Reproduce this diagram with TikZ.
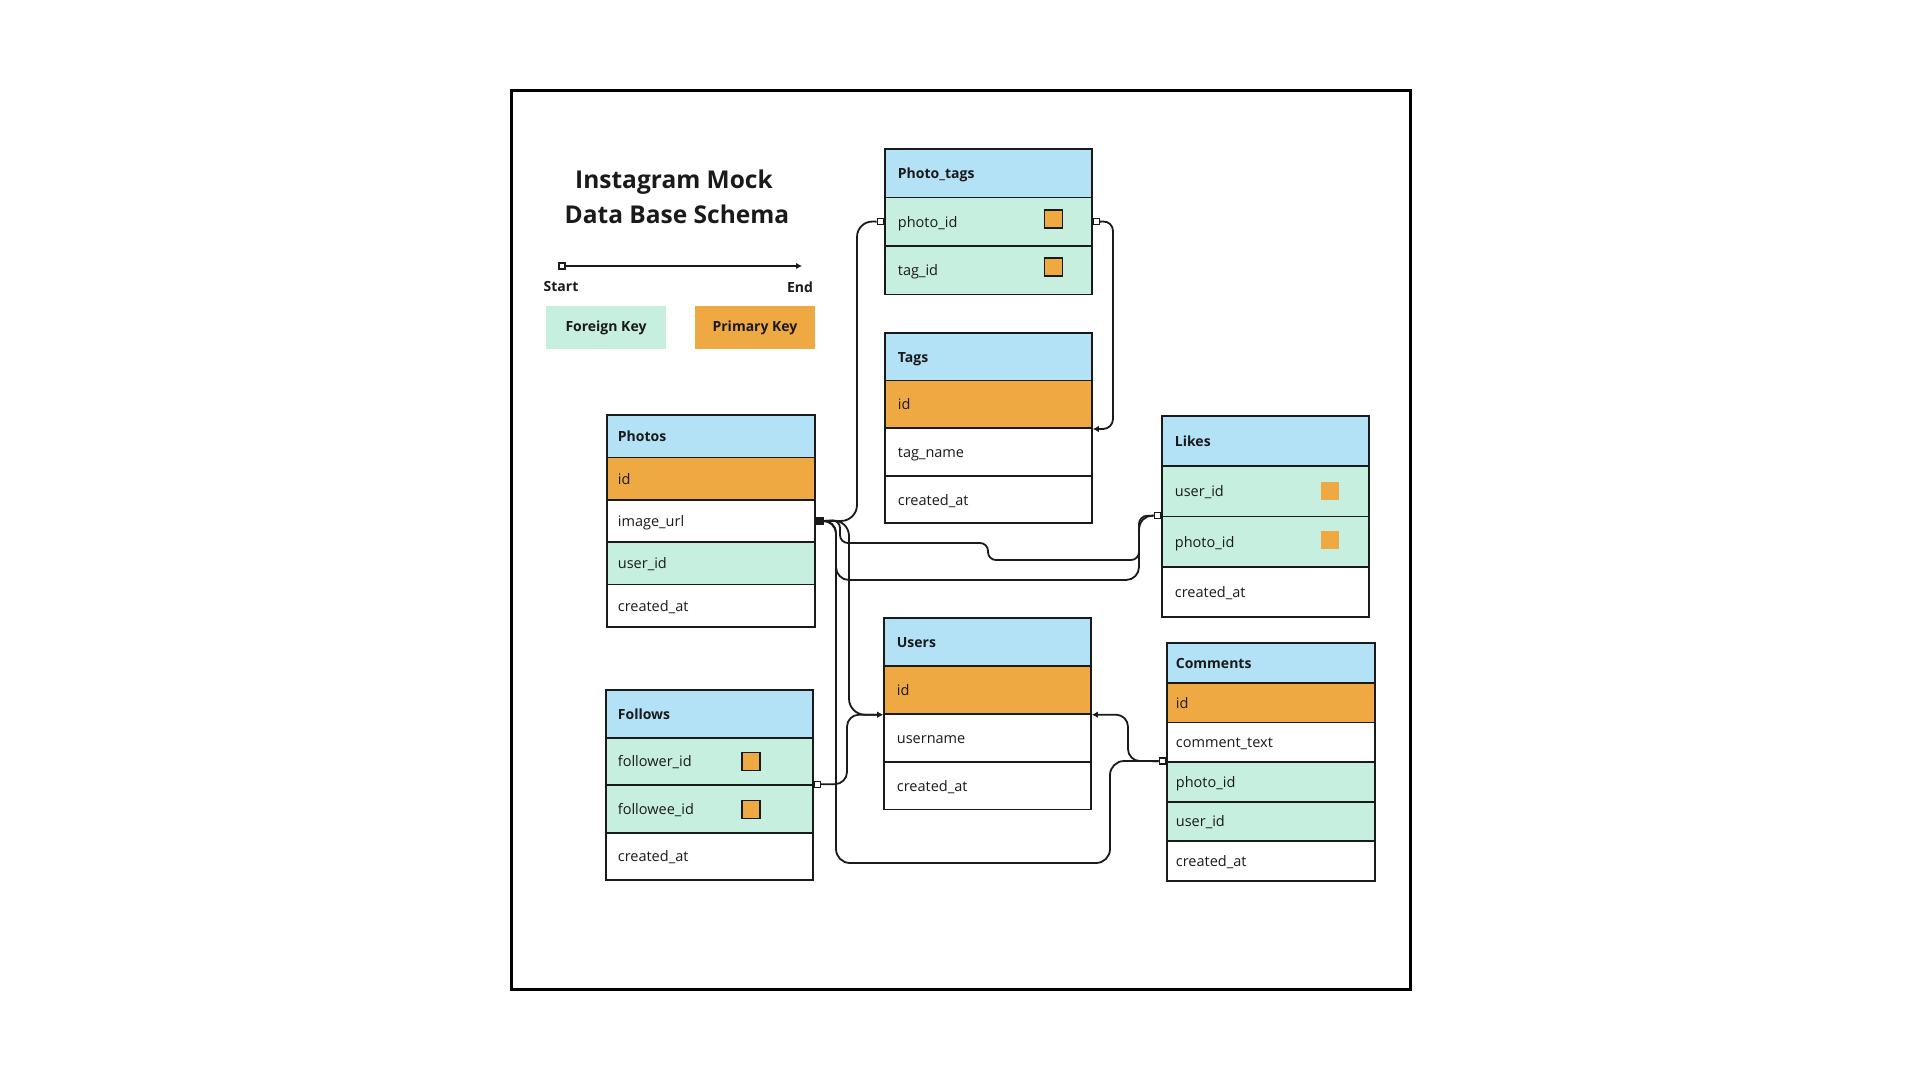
\documentclass[tikz,border=0pt]{standalone}
\usepackage{fontspec}
\setmainfont{Open Sans}
\usetikzlibrary{arrows.meta}
\definecolor{sky}{RGB}{179,226,247}
\definecolor{amber}{RGB}{239,169,66}
\definecolor{mint}{RGB}{198,239,224}
\definecolor{ink}{RGB}{26,26,26}
\tikzset{
  fld/.style={draw=ink, line width=1.8pt, fill=white, anchor=north west,
    minimum width=207pt, text width=181pt, inner xsep=13pt, inner ysep=0pt,
    align=left, text height=12.5pt, text depth=1.5pt, text=ink,
    font=\fontsize{14.5}{17}\selectfont},
  hdr/.style={fld, fill=sky, font=\fontsize{14}{17}\selectfont\bfseries},
  pk/.style={fld, fill=amber},
  fk/.style={fld, fill=mint},
  key/.style={draw=ink, line width=1.4pt, fill=amber, minimum size=18pt, inner sep=0pt},
  sq/.style={draw=ink, line width=1.3pt, fill=white, minimum size=6pt, inner sep=0pt},
  link/.style={draw=ink, line width=1.8pt},
  tip/.style={-{Latex[length=6pt,width=6.5pt]}},
  lbl/.style={text=ink, font=\fontsize{14}{17}\selectfont\bfseries},
}
\begin{document}
\begin{tikzpicture}[x=1pt,y=-1pt]
\useasboundingbox (0,0) rectangle (1920,1080);
\draw[line width=3pt] (511,90) rectangle (1410,989);

% title and legend
\node[anchor=base, text=ink, font=\fontsize{24.5}{30}\selectfont\bfseries] (t1) at (674,188) {Instagram Mock};
\node[anchor=base, text=ink, font=\fontsize{24.5}{30}\selectfont\bfseries] (t2) at (677,223) {Data Base Schema};
\node[sq] (lgs) at (562,266) {};
\coordinate (lge) at (802,266);
\draw[link, line width=1.6pt, tip] (lgs) -- (lge);
\node[lbl] (lgst) at (561,286) {Start};
\node[lbl] (lgen) at (800,287) {End};
\node[lbl, fill=mint, minimum width=120pt, minimum height=43pt] (lgfk) at (606,327.5) {Foreign Key};
\node[lbl, fill=amber, minimum width=120pt, minimum height=43pt] (lgpk) at (755,327.5) {Primary Key};

% Photo_tags
\begin{scope}[fld/.append style={minimum height=48.5pt}]
\node[hdr] (pt) at (884,148) {Photo\_tags};
\node[fk] (pt1) at (884,196.5) {photo\_id};
\node[fk] (pt2) at (884,245) {tag\_id};
\end{scope}
\node[key] (ptk1) at (1053.5,219) {};
\node[key] (ptk2) at (1053.5,267) {};

% Tags
\begin{scope}[fld/.append style={minimum height=47.6pt}]
\node[hdr] (tg) at (884,332) {Tags};
\node[pk] (tg1) at (884,379.6) {id};
\node[fld] (tg2) at (884,427.2) {tag\_name};
\node[fld] (tg3) at (884,474.8) {created\_at};
\end{scope}

% Photos
\begin{scope}[fld/.append style={minimum height=42.3pt, inner xsep=11pt, text width=186pt}]
\node[hdr] (ph) at (606,414.3) {Photos};
\node[pk] (ph1) at (606,456.6) {id};
\node[fld] (ph2) at (606,498.9) {image\_url};
\node[fk] (ph3) at (606,541.2) {user\_id};
\node[fld] (ph4) at (606,583.5) {created\_at};
\end{scope}

% Users
\begin{scope}[fld/.append style={minimum height=47.8pt}]
\node[hdr] (us) at (883,617.3) {Users};
\node[pk] (us1) at (883,665.1) {id};
\node[fld] (us2) at (883,712.9) {username};
\node[fld] (us3) at (883,760.7) {created\_at};
\end{scope}

% Follows
\begin{scope}[fld/.append style={minimum height=47.5pt, inner xsep=12pt, text width=183pt}]
\node[hdr] (fw) at (605,689.3) {Follows};
\node[fk] (fw1) at (605,736.8) {follower\_id};
\node[fk] (fw2) at (605,784.3) {followee\_id};
\node[fld] (fw3) at (605,831.8) {created\_at};
\end{scope}
\node[key] (fwk1) at (751,761.5) {};
\node[key] (fwk2) at (751,809.5) {};

% Likes
\begin{scope}[fld/.append style={minimum height=50.3pt}]
\node[hdr] (lk) at (1161,415) {Likes};
\node[fk] (lk1) at (1161,465.3) {user\_id};
\node[fk] (lk2) at (1161,515.6) {photo\_id};
\node[fld] (lk3) at (1161,565.9) {created\_at};
\end{scope}
\node[key, draw=none] (lkk1) at (1329.5,491) {};
\node[key, draw=none] (lkk2) at (1329.5,539.5) {};

% Comments
\begin{scope}[fld/.append style={minimum height=39.6pt, inner xsep=9pt, text width=190pt}]
\node[hdr] (cm) at (1166,642.3) {Comments};
\node[pk] (cm1) at (1166,681.9) {id};
\node[fld] (cm2) at (1166,721.5) {comment\_text};
\node[fk] (cm3) at (1166,761.1) {photo\_id};
\node[fk] (cm4) at (1166,800.7) {user\_id};
\node[fld] (cm5) at (1166,840.3) {created\_at};
\end{scope}

% link ends
\node[sq, fill=ink, minimum width=7pt] (jct) at ([xshift=4pt]ph2.east) {};
\node[sq, anchor=east] (s1) at (pt1.west) {};
\node[sq, anchor=west] (s2) at (pt1.east) {};
\node[sq, anchor=east] (lkS) at (lk2.north west) {};
\node[sq, anchor=east] (cmS) at (cm3.north west) {};
\node[sq, anchor=west] (fwS) at (fw2.north east) {};

% links
\draw[link, rounded corners=16pt] (jct.east) -| (857,221) -- (s1.west);
\draw[link, tip, rounded corners=10pt] (s2.east) -- (1113,221) |- (tg1.south east);
\draw[link, rounded corners=8pt] (jct.east) -- (840,520) -- (840,543) -- (988,543) -- (988,560) -- (1139,560) -- (1139,516) -- (lkS.west);
\draw[link, rounded corners=13pt] (jct.east) -- (836,520) -- (836,580) -- (1139,580) -- (1139,516) -- (lkS.west);
\draw[link, tip, rounded corners=16pt] (jct.east) -- (849,520) |- (us1.south west);
\draw[link, tip, rounded corners=12pt] (fwS.east) -- (847,784) |- (us1.south west);
\draw[link, rounded corners=14pt] (jct.east) -- (836,520) -- (836,863) -- (1110,863) -- (1110,761) -- (cmS.west);
\draw[link, tip, rounded corners=12pt] (cmS.west) -- (1128,761) |- (us1.south east);
\end{tikzpicture}
\end{document}
